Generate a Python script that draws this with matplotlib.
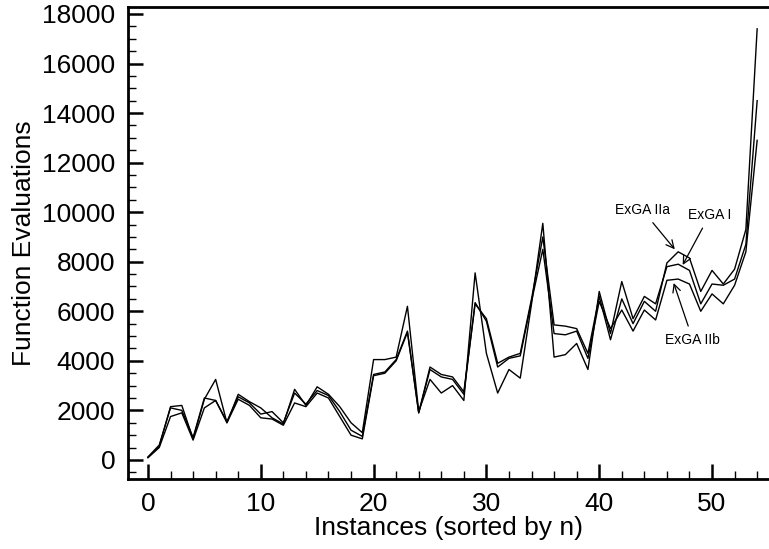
import numpy as np
import matplotlib
matplotlib.use('Agg')
import matplotlib.pyplot as plt

plt.rcParams['font.family'] = ['Liberation Sans', 'DejaVu Sans']

# instance index (sorted by n)
instances = np.arange(55)

# function evaluations per algorithm
exga_i = [100, 550, 2150, 2200, 850, 2450, 3250, 1500, 2650, 2350,
          2100, 1700, 1450, 2850, 2200, 2950, 2650, 2150, 1500, 1100,
          4050, 4050, 4150, 6200, 1950, 3250, 2700, 3000, 2400, 7550,
          4300, 2700, 3650, 3300, 6300, 9550, 4150, 4250, 4700, 3650,
          6800, 5100, 7200, 5700, 6600, 6300, 7800, 7900, 7650, 6300,
          7100, 7050, 7300, 8700, 14500]
exga_iia = [120, 600, 2100, 2000, 900, 2500, 2400, 1550, 2550, 2300,
            1850, 1950, 1500, 2700, 2250, 2800, 2600, 1950, 1200, 950,
            3450, 3550, 4050, 5200, 1900, 3750, 3450, 3350, 2750, 6300,
            5700, 3900, 4150, 4300, 6500, 9000, 5450, 5400, 5300, 4300,
            6600, 4850, 6500, 5500, 6400, 6000, 7950, 8400, 8150, 6800,
            7650, 7100, 7700, 9300, 17400]
exga_iib = [90, 500, 1750, 1900, 800, 2100, 2400, 1500, 2450, 2200,
            1700, 1650, 1400, 2300, 2150, 2700, 2500, 1750, 1000, 850,
            3400, 3500, 4000, 5150, 1900, 3650, 3350, 3250, 2650, 6350,
            5600, 3750, 4100, 4200, 6400, 8500, 5100, 5050, 5200, 4100,
            6400, 5300, 6050, 5200, 6050, 5650, 7250, 7300, 7100, 6000,
            6700, 6300, 7050, 8400, 12900]

fig = plt.figure(figsize=(7.69, 5.49), dpi=100)
ax = fig.add_axes([0.166, 0.1275, 0.834, 0.8597])

for series in (exga_i, exga_iia, exga_iib):
    ax.plot(instances, series, color='black', lw=1.0)

ax.set_xlim(-1.8, 55.05)
ax.set_ylim(-770, 18280)

ax.set_xticks(np.arange(0, 51, 10))
ax.set_xticks(np.arange(0, 55, 2), minor=True)
ax.set_yticks(np.arange(0, 18001, 2000))
ax.set_yticks(np.arange(-500, 18001, 500), minor=True)

ax.spines['right'].set_visible(False)
for s in ('left', 'bottom', 'top'):
    ax.spines[s].set_linewidth(2.0)

ax.tick_params(which='major', direction='in', length=11, width=1.8,
               labelsize=19, pad=9)
ax.tick_params(which='minor', direction='in', length=6, width=1.0)
ax.tick_params(top=False, right=False, which='both')

ax.set_xlabel('Instances (sorted by n)', fontsize=19, labelpad=0)
ax.set_ylabel('Function Evaluations', fontsize=19, labelpad=4)

arrow = dict(arrowstyle='->', lw=0.9, color='black', shrinkA=3, shrinkB=0,
             mutation_scale=14)
ax.annotate('ExGA IIa', xy=(46.7, 8500), xytext=(43.8, 10100),
            fontsize=10, ha='center', va='center', arrowprops=arrow)
ax.annotate('ExGA I', xy=(47.4, 7870), xytext=(49.8, 9900),
            fontsize=10, ha='center', va='center', arrowprops=arrow)
ax.annotate('ExGA IIb', xy=(46.6, 7140), xytext=(48.3, 4850),
            fontsize=10, ha='center', va='center', arrowprops=arrow)

fig.savefig('out.png', dpi=100)
